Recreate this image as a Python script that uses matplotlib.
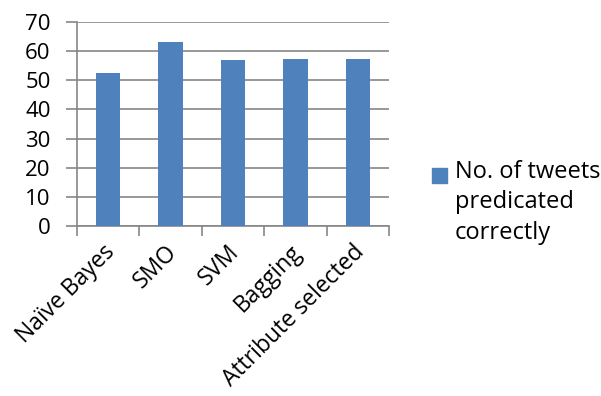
import matplotlib.pyplot as plt
from matplotlib.patches import Rectangle
import numpy as np

categories = ["Naïve Bayes", "SMO", "SVM", "Bagging", "Attribute selected"]
correct = [52.6, 63.2, 56.9, 57.3, 57.3]
series_name = "No. of tweets\npredicated\ncorrectly"

BAR_COLOR = "#4F81BD"
AXIS_COLOR = "#868686"

plt.rcParams["font.family"] = ["Open Sans", "DejaVu Sans"]

fig = plt.figure(figsize=(6.01, 3.96), dpi=100)
ax = fig.add_axes([77 / 601, 1 - 226 / 396, 312 / 601, 204 / 396])

x = np.arange(len(categories))
ax.bar(x, correct, width=0.39, color=BAR_COLOR, zorder=3)

ax.set_xlim(-0.5, len(categories) - 0.5)
ax.set_ylim(0, 70)
ax.set_yticks(range(0, 71, 10))
ax.yaxis.grid(True, color=AXIS_COLOR, linewidth=1.2, zorder=0)

for side in ["top", "right"]:
    ax.spines[side].set_visible(False)
for side in ["left", "bottom"]:
    ax.spines[side].set_color(AXIS_COLOR)
    ax.spines[side].set_linewidth(1.2)

# ticks sit on the category boundaries, names go at the centres
ax.set_xticks(np.arange(-0.5, len(categories)))
ax.set_xticklabels([])
ax.tick_params(axis="x", length=7, color=AXIS_COLOR, width=1.2)
ax.tick_params(axis="y", length=8, color=AXIS_COLOR, width=1.2, labelsize=16, pad=11)

for xi, name in zip(x, categories):
    ax.text(xi - 0.09, -0.07, name, rotation=45, ha="right", va="top",
            rotation_mode="anchor", fontsize=16.5, transform=ax.get_xaxis_transform())

# legend: swatch next to the first line of a three-line label
fig.patches.append(Rectangle((432 / 601, 1 - 183 / 396), 15 / 601, 15 / 396,
                             transform=fig.transFigure, color=BAR_COLOR))
fig.text(455 / 601, 1 - 160 / 396, series_name, ha="left", va="top",
         fontsize=17, linespacing=1.35)

fig.savefig("out.png", dpi=100)
